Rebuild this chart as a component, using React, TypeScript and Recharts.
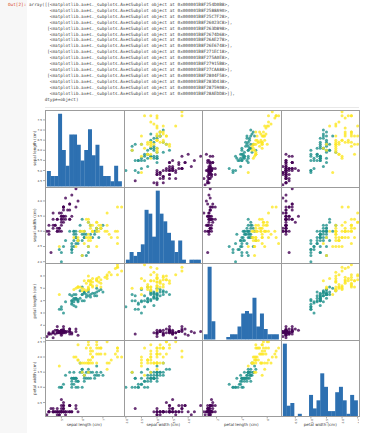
import React from 'react';
import { ScatterChart, Scatter, XAxis, YAxis, BarChart, Bar } from 'recharts';

// Iris measurements: [sepal length, sepal width, petal length, petal width]
const setosa = [
  [5.1,3.5,1.4,0.2],[4.9,3.0,1.4,0.2],[4.7,3.2,1.3,0.2],[4.6,3.1,1.5,0.2],[5.0,3.6,1.4,0.2],
  [5.4,3.9,1.7,0.4],[4.6,3.4,1.4,0.3],[5.0,3.4,1.5,0.2],[4.4,2.9,1.4,0.2],[4.9,3.1,1.5,0.1],
  [5.4,3.7,1.5,0.2],[4.8,3.4,1.6,0.2],[4.8,3.0,1.4,0.1],[4.3,3.0,1.1,0.1],[5.8,4.0,1.2,0.2],
  [5.7,4.4,1.5,0.4],[5.4,3.9,1.3,0.4],[5.1,3.5,1.4,0.3],[5.7,3.8,1.7,0.3],[5.1,3.8,1.5,0.3],
  [5.4,3.4,1.7,0.2],[5.1,3.7,1.5,0.4],[4.6,3.6,1.0,0.2],[5.1,3.3,1.7,0.5],[4.8,3.4,1.9,0.2],
  [5.0,3.0,1.6,0.2],[5.0,3.4,1.6,0.4],[5.2,3.5,1.5,0.2],[5.2,3.4,1.4,0.2],[4.7,3.2,1.6,0.2],
  [4.8,3.1,1.6,0.2],[5.4,3.4,1.5,0.4],[5.2,4.1,1.5,0.1],[5.5,4.2,1.4,0.2],[4.9,3.1,1.5,0.2],
  [5.0,3.2,1.2,0.2],[5.5,3.5,1.3,0.2],[4.9,3.6,1.4,0.1],[4.4,3.0,1.3,0.2],[5.1,3.4,1.5,0.2],
  [5.0,3.5,1.3,0.3],[4.5,2.3,1.3,0.3],[4.4,3.2,1.3,0.2],[5.0,3.5,1.6,0.6],[5.1,3.8,1.9,0.4],
  [4.8,3.0,1.4,0.3],[5.1,3.8,1.6,0.2],[4.6,3.2,1.4,0.2],[5.3,3.7,1.5,0.2],[5.0,3.3,1.4,0.2],
];
const versicolor = [
  [7.0,3.2,4.7,1.4],[6.4,3.2,4.5,1.5],[6.9,3.1,4.9,1.5],[5.5,2.3,4.0,1.3],[6.5,2.8,4.6,1.5],
  [5.7,2.8,4.5,1.3],[6.3,3.3,4.7,1.6],[4.9,2.4,3.3,1.0],[6.6,2.9,4.6,1.3],[5.2,2.7,3.9,1.4],
  [5.0,2.0,3.5,1.0],[5.9,3.0,4.2,1.5],[6.0,2.2,4.0,1.0],[6.1,2.9,4.7,1.4],[5.6,2.9,3.6,1.3],
  [6.7,3.1,4.4,1.4],[5.6,3.0,4.5,1.5],[5.8,2.7,4.1,1.0],[6.2,2.2,4.5,1.5],[5.6,2.5,3.9,1.1],
  [5.9,3.2,4.8,1.8],[6.1,2.8,4.0,1.3],[6.3,2.5,4.9,1.5],[6.1,2.8,4.7,1.2],[6.4,2.9,4.3,1.3],
  [6.6,3.0,4.4,1.4],[6.8,2.8,4.8,1.4],[6.7,3.0,5.0,1.7],[6.0,2.9,4.5,1.5],[5.7,2.6,3.5,1.0],
  [5.5,2.4,3.8,1.1],[5.5,2.4,3.7,1.0],[5.8,2.7,3.9,1.2],[6.0,2.7,5.1,1.6],[5.4,3.0,4.5,1.5],
  [6.0,3.4,4.5,1.6],[6.7,3.1,4.7,1.5],[6.3,2.3,4.4,1.3],[5.6,3.0,4.1,1.3],[5.5,2.5,4.0,1.3],
  [5.5,2.6,4.4,1.2],[6.1,3.0,4.6,1.4],[5.8,2.6,4.0,1.2],[5.0,2.3,3.3,1.0],[5.6,2.7,4.2,1.3],
  [5.7,3.0,4.2,1.2],[5.7,2.9,4.2,1.3],[6.2,2.9,4.3,1.3],[5.1,2.5,3.0,1.1],[5.7,2.8,4.1,1.3],
];
const virginica = [
  [6.3,3.3,6.0,2.5],[5.8,2.7,5.1,1.9],[7.1,3.0,5.9,2.1],[6.3,2.9,5.6,1.8],[6.5,3.0,5.8,2.2],
  [7.6,3.0,6.6,2.1],[4.9,2.5,4.5,1.7],[7.3,2.9,6.3,1.8],[6.7,2.5,5.8,1.8],[7.2,3.6,6.1,2.5],
  [6.5,3.2,5.1,2.0],[6.4,2.7,5.3,1.9],[6.8,3.0,5.5,2.1],[5.7,2.5,5.0,2.0],[5.8,2.8,5.1,2.4],
  [6.4,3.2,5.3,2.3],[6.5,3.0,5.5,1.8],[7.7,3.8,6.7,2.2],[7.7,2.6,6.9,2.3],[6.0,2.2,5.0,1.5],
  [6.9,3.2,5.7,2.3],[5.6,2.8,4.9,2.0],[7.7,2.8,6.7,2.0],[6.3,2.7,4.9,1.8],[6.7,3.3,5.7,2.1],
  [7.2,3.2,6.0,1.8],[6.2,2.8,4.8,1.8],[6.1,3.0,4.9,1.8],[6.4,2.8,5.6,2.1],[7.2,3.0,5.8,1.6],
  [7.4,2.8,6.1,1.9],[7.9,3.8,6.4,2.0],[6.4,2.8,5.6,2.2],[6.3,2.8,5.1,1.5],[6.1,2.6,5.6,1.4],
  [7.7,3.0,6.1,2.3],[6.3,3.4,5.6,2.4],[6.4,3.1,5.5,1.8],[6.0,3.0,4.8,1.8],[6.9,3.1,5.4,2.1],
  [6.7,3.1,5.6,2.4],[6.9,3.1,5.1,2.3],[5.8,2.7,5.1,1.9],[6.8,3.2,5.9,2.3],[6.7,3.3,5.7,2.5],
  [6.7,3.0,5.2,2.3],[6.3,2.5,5.0,1.9],[6.5,3.0,5.2,2.0],[6.2,3.4,5.4,2.3],[5.9,3.0,5.1,1.8],
];

const featureNames = ['sepal length (cm)', 'sepal width (cm)', 'petal length (cm)', 'petal width (cm)'];
const featureMin = [4.3, 2.0, 1.0, 0.1];
const featureMax = [7.9, 4.4, 6.9, 2.5];

// histogram counts (20 bins each)
const sepalLengthCounts = [3, 2, 2, 14, 7, 4, 10, 10, 8, 5, 7, 11, 6, 8, 4, 2, 2, 1, 4, 1];
const sepalWidthCounts = [1, 3, 2, 3, 5, 14, 13, 7, 19, 13, 11, 8, 6, 3, 6, 1, 0, 1, 1, 1];
const petalLengthCounts = [2, 28, 7, 0, 0, 0, 1, 2, 2, 5, 10, 11, 10, 16, 5, 10, 4, 2, 2, 2];
const petalWidthCounts = [27, 4, 5, 0, 1, 0, 0, 8, 3, 6, 16, 11, 2, 2, 9, 11, 6, 1, 8, 6];

const xTicks = [[5, 6, 7], [2.0, 2.5, 3.0, 3.5, 4.0], [2, 4, 6], [0.5, 1.0, 1.5, 2.0, 2.5]];
const yTicks = [[4.5, 5.0, 5.5, 6.0, 6.5, 7.0, 7.5], [2.0, 2.5, 3.0, 3.5, 4.0], [1, 2, 3, 4, 5, 6], [0.5, 1.0, 1.5, 2.0, 2.5]];
const xDecimals = [0, 1, 0, 1];
const yDecimals = [1, 1, 0, 1];

const addresses = [
  '0x000001B8F254D0B8', '0x000001B8F2588A90', '0x000001B8F25C7F28', '0x000001B8F26023C8',
  '0x000001B8F263D898', '0x000001B8F2674D68', '0x000001B8F26AE278', '0x000001B8F26E6748',
  '0x000001B8F271EC18', '0x000001B8F275A0E8', '0x000001B8F27915B8', '0x000001B8F27CAA88',
  '0x000001B8F2804F58', '0x000001B8F283D438', '0x000001B8F2875908', '0x000001B8F28AEDD8',
];

// ---- styling / layout ----
const classes = [setosa, versicolor, virginica];
const classColors = ['#440154', '#21918c', '#fde725'];
const histCounts = [sepalLengthCounts, sepalWidthCounts, petalLengthCounts, petalWidthCounts];
const HIST_COLOR = '#2d70b1';
const PANEL_W = 78.5;
const PANEL_H = 76.5;
const LEFT = 45;
const TOP = 110;
const Y_AXIS_W = 14;
const X_AXIS_H = 12;
const TICK_FS = 2.8;
const LABEL_FS = 4;
const FRAME = '#9c9c9c';

const limits = (k: number): [number, number] => {
  const r = featureMax[k] - featureMin[k];
  return [featureMin[k] - 0.025 * r, featureMax[k] + 0.025 * r];
};
const fmt = (d: number) => (v: number) => Number(v).toFixed(d);

const histData = (k: number) => {
  const step = (featureMax[k] - featureMin[k]) / histCounts[k].length;
  return histCounts[k].map((c, b) => ({ x: featureMin[k] + (b + 0.5) * step, count: c }));
};

const dot = (color: string) => (p: any) => (
  <circle cx={p.cx} cy={p.cy} r={1.5} fill={color} fillOpacity={0.8} />
);
const noDot = () => <g />;

const makeXAxis = (col: number, show: boolean) => (
  <XAxis
    type="number"
    dataKey="x"
    domain={limits(col)}
    allowDataOverflow
    hide={!show}
    ticks={xTicks[col]}
    interval={0}
    tickFormatter={fmt(xDecimals[col])}
    height={X_AXIS_H}
    tickSize={2}
    tickMargin={0.5}
    axisLine={false}
    tickLine={{ stroke: '#555', strokeWidth: 0.5 }}
    tick={{ fontSize: TICK_FS, fill: '#333', angle: -90, textAnchor: 'end', verticalAnchor: 'middle' }}
    label={{ value: featureNames[col], position: 'insideBottom', offset: 2.5, fontSize: LABEL_FS, fill: '#333' }}
  />
);

const makeYAxis = (row: number, show: boolean) => (
  <YAxis
    type="number"
    dataKey="y"
    domain={limits(row)}
    allowDataOverflow
    hide={!show}
    ticks={yTicks[row]}
    interval={0}
    tickFormatter={fmt(yDecimals[row])}
    width={Y_AXIS_W}
    tickSize={2}
    tickMargin={1}
    axisLine={false}
    tickLine={{ stroke: '#555', strokeWidth: 0.5 }}
    tick={{ fontSize: TICK_FS, fill: '#333' }}
    label={{ value: featureNames[row], angle: -90, position: 'insideLeft', offset: 4, fontSize: LABEL_FS, fill: '#333', style: { textAnchor: 'middle' } }}
  />
);

const margin0 = { top: 0, right: 0, bottom: 0, left: 0 };

function Panel({ row, col }: { row: number; col: number }) {
  const showX = row === 3;
  const showY = col === 0;
  const h = PANEL_H + (showX ? X_AXIS_H : 0);
  const top = TOP + row * PANEL_H;

  if (row === col) {
    const data = histData(col);
    const left = LEFT + col * PANEL_W;
    return (
      <>
        {row === 0 && (
          // y-axis of the first row (sepal length) drawn beside the histogram
          <div style={{ position: 'absolute', left: LEFT - Y_AXIS_W, top }}>
            <ScatterChart width={PANEL_W + Y_AXIS_W} height={PANEL_H} margin={margin0}>
              {makeXAxis(0, false)}
              {makeYAxis(0, true)}
              <Scatter data={setosa.map((r) => ({ x: r[0], y: r[0] }))} shape={noDot} isAnimationActive={false} />
            </ScatterChart>
          </div>
        )}
        <div style={{ position: 'absolute', left, top }}>
          <BarChart width={PANEL_W} height={h} data={data} margin={margin0} barCategoryGap={0} barGap={0}>
            {makeXAxis(col, showX)}
            <YAxis type="number" dataKey="count" domain={[0, (m: number) => m * 1.05]} hide />
            <Bar dataKey="count" fill={HIST_COLOR} isAnimationActive={false} />
          </BarChart>
        </div>
      </>
    );
  }

  const w = PANEL_W + (showY ? Y_AXIS_W : 0);
  const left = LEFT + col * PANEL_W - (showY ? Y_AXIS_W : 0);
  return (
    <div style={{ position: 'absolute', left, top }}>
      <ScatterChart width={w} height={h} margin={margin0}>
        {makeXAxis(col, showX)}
        {makeYAxis(row, showY)}
        {classes.map((rows, c) => (
          <Scatter
            key={c}
            data={rows.map((r) => ({ x: r[col], y: r[row] }))}
            fill={classColors[c]}
            shape={dot(classColors[c])}
            isAnimationActive={false}
          />
        ))}
      </ScatterChart>
    </div>
  );
}

const mono: React.CSSProperties = {
  position: 'absolute',
  fontFamily: '"DejaVu Sans Mono", monospace',
  fontSize: 4.34,
  lineHeight: '5.9px',
  whiteSpace: 'pre',
};

const outputLines = (() => {
  const lines: string[] = [];
  addresses.forEach((a, n) => {
    const obj = `<matplotlib.axes._subplots.AxesSubplot object at ${a}>`;
    const r = Math.floor(n / 4);
    const c = n % 4;
    const prefix = c === 0 ? (r === 0 ? 'array([[' : '       [') : '        ';
    const suffix = c === 3 ? (r === 3 ? ']],' : '],') : ',';
    lines.push(prefix + obj + suffix);
  });
  lines.push('      dtype=object)');
  return lines;
})();

export default function App() {
  const panels: React.ReactNode[] = [];
  for (let i = 0; i < 4; i++) for (let j = 0; j < 4; j++) panels.push(<Panel key={`${i}-${j}`} row={i} col={j} />);
  const vLines = [0, 1, 2, 3, 4].map((k) => (
    <div key={`v${k}`} style={{ position: 'absolute', left: Math.round(LEFT + k * PANEL_W), top: TOP, width: 1, height: 4 * PANEL_H, background: FRAME }} />
  ));
  const hLines = [0, 1, 2, 3, 4].map((k) => (
    <div key={`h${k}`} style={{ position: 'absolute', left: LEFT, top: Math.round(TOP + k * PANEL_H), width: 4 * PANEL_W + 1, height: 1, background: FRAME }} />
  ));
  return (
    <div style={{ position: 'absolute', left: 0, top: 0, width: 372, height: 433, background: '#fff', overflow: 'hidden', fontFamily: '"DejaVu Sans", sans-serif' }}>
      <div style={{ position: 'absolute', left: 0, top: 0, width: 27, height: 433, background: '#f7f7f7' }} />
      <div style={{ ...mono, left: 8, top: 2, color: '#d84315' }}>Out[2]:</div>
      <div style={{ ...mono, left: 29, top: 2, color: '#444' }}>{outputLines.join('\n')}</div>
      <div style={{ position: 'absolute', left: 45, top: 107, width: 314, height: 1, background: '#e8e8e8' }} />
      {panels}
      {vLines}
      {hLines}
    </div>
  );
}
